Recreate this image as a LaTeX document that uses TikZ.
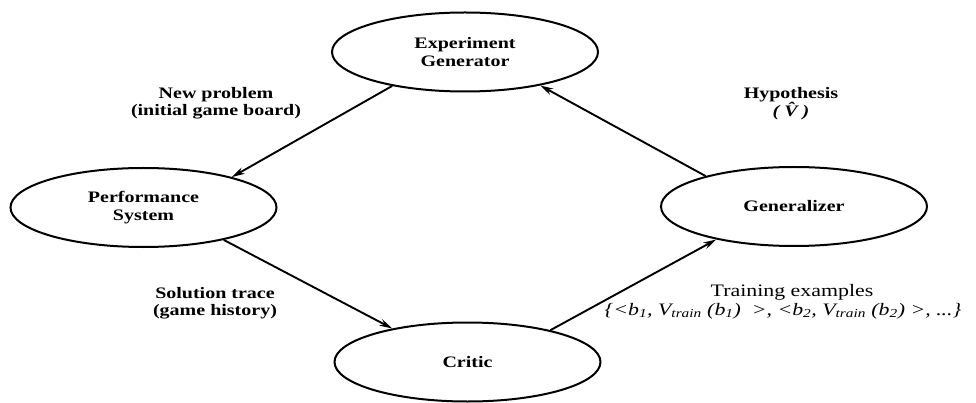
\documentclass[tikz,border=0pt]{standalone}
\usepackage{fontspec}
\setmainfont{Liberation Serif}[FakeStretch=1.25]
\usetikzlibrary{shapes.geometric,arrows.meta}
\begin{document}
\begin{tikzpicture}[x=1pt,y=-1pt,
  stage/.style={ellipse, draw, line width=2pt, minimum width=266pt,
    minimum height=79pt, inner sep=0pt, align=center,
    font=\bfseries\fontsize{16}{18}\selectfont},
  flow/.style={line width=1.9pt, -{Stealth[length=13pt,width=7pt]}},
  lbl/.style={inner sep=0pt, align=center,
    font=\bfseries\fontsize{16}{17}\selectfont},
  plain/.style={inner sep=0pt, align=center,
    font=\fontsize{17.5}{18}\selectfont}]
\useasboundingbox (0,0) rectangle (976,403);

% the four stages of the learning loop
\node[stage] (exp)    at (465,52)    {Experiment\\Generator};
\node[stage] (perf)   at (143.5,207.5) {Performance\\System};
\node[stage] (gen)    at (794,206.5) {Generalizer};
\node[stage] (critic) at (467.5,362) {Critic};

% flow between the stages
\draw[flow] (exp.205)   -- (perf.19);
\draw[flow] (perf.-22)  -- (critic.156);
\draw[flow] (critic.21) -- (gen.203);
\draw[flow] (gen.161)   -- (exp.-24);

% what is passed along each connector
\node[lbl] (newp) at (216,103.5) {New problem\\(initial game board)};
\node[lbl] (hyp)  at (791,103.5) {Hypothesis\\\textit{( \^{V} )}};
\node[lbl] (sol)  at (215,303)   {Solution trace\\(game history)};
\node[plain] (train) at (792,292) {Training examples};
\node[plain] (pairs) at (783,311)
  {\textit{\{<b\textsubscript{1}, V\textsubscript{train} (b\textsubscript{1})\ \ >, <b\textsubscript{2}, V\textsubscript{train} (b\textsubscript{2}) >, ...\}}};
\end{tikzpicture}
\end{document}
